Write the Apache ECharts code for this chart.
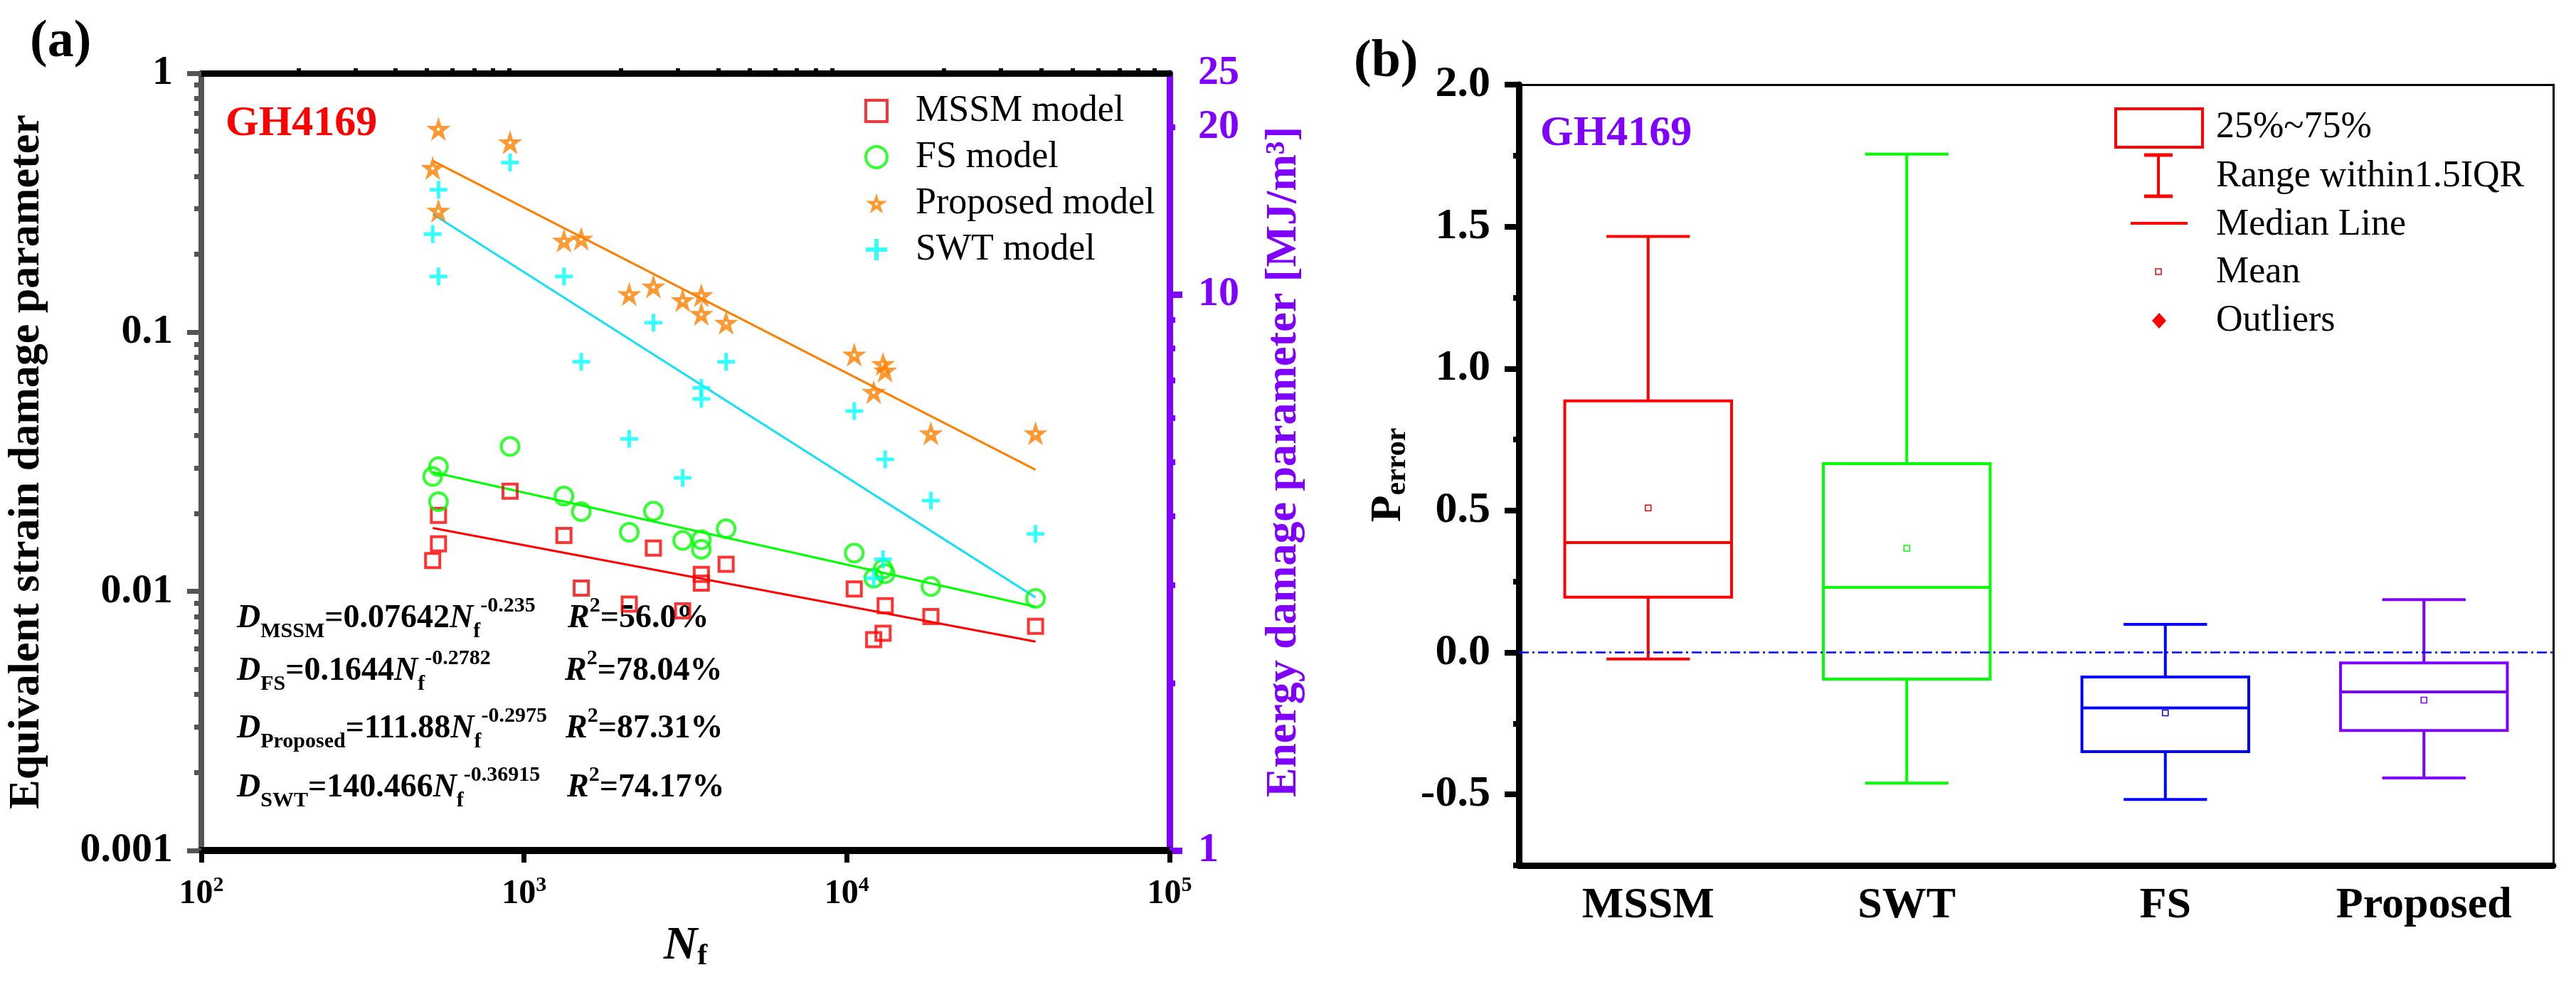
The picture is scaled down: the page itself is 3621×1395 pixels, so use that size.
<!DOCTYPE html>
<html>
<head>
<meta charset="utf-8">
<title>GH4169 damage parameters and P_error</title>
<script src="https://cdn.jsdelivr.net/npm/echarts@6/dist/echarts.min.js"></script>
<style>
  html, body { margin: 0; padding: 0; background: #fff; }
  #chart { width: 3621px; height: 1395px; }
</style>
</head>
<body>
<div id="chart"></div>
<script>

// (a) damage parameters vs. fatigue life
var nf = [521, 543, 543, 905, 1329, 1504, 2118, 2516, 3100, 3542, 3542, 4227, 10544, 12114, 12950, 13150, 18218, 38440];
var dMSSM = [0.01315, 0.01964, 0.01527, 0.02438, 0.01643, 0.0103, 0.00894, 0.0147, 0.00842, 0.01163, 0.01076, 0.01272, 0.01022, 0.00651, 0.00689, 0.00881, 0.0080, 0.00733];
var dFS = [0.02776, 0.0303, 0.02221, 0.03626, 0.02333, 0.02031, 0.01692, 0.0204, 0.01572, 0.01582, 0.01454, 0.01745, 0.01406, 0.01125, 0.0122, 0.0117, 0.01045, 0.0094];
var eProposed = [16.89, 19.86, 14.15, 18.79, 12.50, 12.60, 10.02, 10.34, 9.77, 9.97, 9.23, 8.90, 7.80, 6.68, 7.50, 7.30, 5.63, 5.63];
var eSWT = [12.84, 15.43, 10.78, 17.28, 10.78, 7.57, 5.50, 8.90, 4.68, 6.79, 6.49, 7.57, 6.17, 3.09, 3.34, 5.05, 4.26, 3.71];

// fitted power laws, values at first and last Nf
var fitNf = [521, 38440];
var fitMSSM = [0.01757, 0.0064];
var fitFS = [0.02885, 0.00872];
var fitProposed = [17.40, 4.84];
var fitSWT = [13.95, 2.852];

// (b) P_error box plot
var boxCats = ['MSSM', 'SWT', 'FS', 'Proposed'];
var boxMin = [-0.023, -0.46, -0.518, -0.442];
var boxQ1 = [0.195, -0.094, -0.349, -0.275];
var boxMedian = [0.387, 0.229, -0.195, -0.139];
var boxQ3 = [0.886, 0.665, -0.086, -0.037];
var boxMax = [1.465, 1.755, 0.099, 0.186];
var boxMean = [0.509, 0.367, -0.213, -0.168];

// tick labels
var energyLabels = [1, 10, 20, 25];
var energyMajor = [1, 10];
var energyMinor = [2, 3, 4, 5, 6, 7, 8, 9, 20];
var pMajor = [-0.5, 0, 0.5, 1, 1.5, 2];
var pMinor = [-0.75, -0.25, 0.25, 0.75, 1.25, 1.75];

var serif = 'Liberation Serif, Tinos, Times New Roman, serif';
var purple = '#8000FF';
var boxColors = ['#FF0000', '#00FF00', '#0000FF', purple];

// star with a small hole (inner pentagon drawn the other way round)
var starPath = 'path://M50,0 L61.2,34.5 L97.6,34.5 L68.2,55.9 L79.4,90.5 L50,69.1 L20.6,90.5 L31.8,55.9 L2.4,34.5 L38.8,34.5 Z' +
    ' M50,40 L43,45 L45.5,53 L54.5,53 L57,45 Z';
var plusPath = 'path://M4,0H6V4H10V6H6V10H4V6H0V4H4Z';

// minor tick values on the log axes (2..9 per decade)
var minorX = [], minorY = [];
[100, 1000, 10000].forEach(function (d) {
    for (var k = 2; k < 10; k++) minorX.push(k * d);
});
[0.001, 0.01, 0.1].forEach(function (d) {
    for (var k = 2; k < 10; k++) minorY.push(Number((k * d).toPrecision(3)));
});

function pairs(xs, ys) {
    return xs.map(function (x, i) { return [x, ys[i]]; });
}

var boxData = boxCats.map(function (c, i) {
    return [c, boxMin[i], boxQ1[i], boxMedian[i], boxQ3[i], boxMax[i], boxMean[i]];
});

function renderBox(params, api) {
    var c = boxColors[params.dataIndex];
    var idx = api.value(0);
    var bw = api.size([1, 0])[0] * 0.645;
    var cap = bw / 2;
    var lo = api.coord([idx, api.value(1)]);
    var q1 = api.coord([idx, api.value(2)]);
    var md = api.coord([idx, api.value(3)]);
    var q3 = api.coord([idx, api.value(4)]);
    var hi = api.coord([idx, api.value(5)]);
    var mn = api.coord([idx, api.value(6)]);
    var x = md[0];
    var st = { stroke: c, lineWidth: 4, fill: null };
    return {
        type: 'group',
        children: [
            { type: 'line', shape: { x1: x, y1: q3[1], x2: x, y2: hi[1] }, style: st },
            { type: 'line', shape: { x1: x, y1: q1[1], x2: x, y2: lo[1] }, style: st },
            { type: 'line', shape: { x1: x - cap / 2, y1: hi[1], x2: x + cap / 2, y2: hi[1] }, style: st },
            { type: 'line', shape: { x1: x - cap / 2, y1: lo[1], x2: x + cap / 2, y2: lo[1] }, style: st },
            { type: 'rect', shape: { x: x - bw / 2, y: q3[1], width: bw, height: q1[1] - q3[1] }, style: { stroke: c, lineWidth: 4, fill: 'rgba(0,0,0,0)' } },
            { type: 'line', shape: { x1: x - bw / 2, y1: md[1], x2: x + bw / 2, y2: md[1] }, style: st },
            { type: 'rect', shape: { x: mn[0] - 4, y: mn[1] - 4, width: 8, height: 8 }, style: { stroke: c, lineWidth: 1.5, fill: 'rgba(0,0,0,0)' } }
        ]
    };
}

var eqRich = {
    d: { fontFamily: serif, fontSize: 46, fontWeight: 'bold', fontStyle: 'italic', lineHeight: 66, color: '#000' },
    n: { fontFamily: serif, fontSize: 46, fontWeight: 'bold', lineHeight: 66, color: '#000' },
    sub: { fontFamily: serif, fontSize: 30, fontWeight: 'bold', verticalAlign: 'bottom', lineHeight: 34, color: '#000' },
    sup: { fontFamily: serif, fontSize: 30, fontWeight: 'bold', verticalAlign: 'top', lineHeight: 30, color: '#000' }
};

function eqText(x, y, txt) {
    return { type: 'text', left: x, top: y, style: { text: txt, rich: eqRich, verticalAlign: 'top' } };
}

function legText(x, y, txt) {
    return { type: 'text', x: x, y: y, style: { text: txt, fontFamily: serif, fontSize: 52, fill: '#000', verticalAlign: 'middle' } };
}

var myChart = echarts.init(document.getElementById('chart'));

var option = {
    animation: false,
    backgroundColor: '#fff',
    grid: [
        { left: 283, top: 103, width: 1361, height: 1093 },
        { left: 2135, top: 119, width: 1454, height: 1098 }
    ],
    legend: {
        orient: 'vertical',
        left: 1210,
        top: 125,
        itemWidth: 30,
        itemHeight: 30,
        itemGap: 13,
        selectedMode: false,
        textStyle: { fontFamily: serif, fontSize: 52, color: '#000', lineHeight: 52, padding: [0, 0, 0, 35] },
        data: [
            { name: 'MSSM model', icon: 'rect', itemStyle: { color: 'rgba(0,0,0,0)', borderColor: '#FF0000', borderWidth: 4 } },
            { name: 'FS model', icon: 'circle', itemStyle: { color: 'rgba(0,0,0,0)', borderColor: '#00FF00', borderWidth: 4 } },
            { name: 'Proposed model', icon: starPath, itemStyle: { color: '#FF8000', borderWidth: 0 } },
            { name: 'SWT model', icon: plusPath, itemStyle: { color: '#00FFFF', borderWidth: 0 } }
        ]
    },
    xAxis: [
        {
            gridIndex: 0, type: 'log', logBase: 10, min: 100, max: 100000,
            splitLine: { show: false },
            axisLine: { onZero: false, lineStyle: { color: '#000', width: 10 } },
            axisTick: { length: 17, lineStyle: { color: '#000', width: 7 } },
            axisLabel: {
                margin: 34,
                formatter: function (v) { return '{b|10}{s|' + Math.round(Math.log10(v)) + '}'; },
                rich: {
                    b: { fontFamily: serif, fontSize: 48, fontWeight: 'bold', color: '#000', lineHeight: 56 },
                    s: { fontFamily: serif, fontSize: 30, fontWeight: 'bold', color: '#000', verticalAlign: 'top', lineHeight: 30 }
                }
            },
            name: '{n|N}{f|f}',
            nameLocation: 'middle',
            nameGap: 100,
            nameTextStyle: {
                rich: {
                    n: { fontFamily: serif, fontSize: 66, fontWeight: 'bold', fontStyle: 'italic', color: '#000', lineHeight: 70 },
                    f: { fontFamily: serif, fontSize: 42, fontWeight: 'bold', color: '#000', verticalAlign: 'bottom', lineHeight: 44 }
                }
            }
        },
        {
            gridIndex: 0, type: 'log', logBase: 10, min: 100, max: 100000,
            splitLine: { show: false },
            axisLine: { show: false, onZero: false },
            axisTick: { customValues: minorX, length: 7, lineStyle: { color: '#000', width: 6 } },
            axisLabel: { show: false }
        },
        {
            gridIndex: 0, type: 'value', position: 'top', min: 0, max: 1,
            splitLine: { show: false },
            axisLine: { onZero: false, lineStyle: { color: '#000', width: 9 } },
            axisTick: { show: false }, axisLabel: { show: false }
        },
        {
            gridIndex: 1, type: 'category', data: boxCats,
            splitLine: { show: false },
            axisLine: { onZero: false, lineStyle: { color: '#000', width: 9 } },
            axisTick: { alignWithLabel: true, length: 18, lineStyle: { color: '#000', width: 8 } },
            axisLabel: { margin: 26, fontFamily: serif, fontSize: 62, fontWeight: 'bold', color: '#000' }
        },
        {
            gridIndex: 1, type: 'value', position: 'top', min: 0, max: 1,
            splitLine: { show: false },
            axisLine: { onZero: false, lineStyle: { color: '#000', width: 3 } },
            axisTick: { show: false }, axisLabel: { show: false }
        }
    ],
    yAxis: [
        {
            gridIndex: 0, type: 'log', logBase: 10, min: 0.001, max: 1, position: 'left',
            splitLine: { show: false },
            axisLine: { onZero: false, lineStyle: { color: '#555', width: 8 } },
            axisTick: { length: 20, lineStyle: { color: '#555', width: 7 } },
            axisLabel: {
                margin: 40, fontFamily: serif, fontSize: 58, fontWeight: 'bold', color: '#000',
                formatter: function (v) { return String(Number(v.toPrecision(3))); }
            },
            name: 'Equivalent strain damage parameter',
            nameLocation: 'middle', nameRotate: 90, nameGap: 214,
            nameTextStyle: { fontFamily: serif, fontSize: 62, fontWeight: 'bold', color: '#000' }
        },
        {
            gridIndex: 0, type: 'log', logBase: 10, min: 1, max: 25, position: 'right',
            splitLine: { show: false },
            axisLine: { onZero: false, lineStyle: { color: purple, width: 9 } },
            axisTick: { customValues: energyMajor, length: 18, lineStyle: { color: purple, width: 9 } },
            axisLabel: {
                customValues: energyLabels, margin: 40,
                fontFamily: serif, fontSize: 58, fontWeight: 'bold', color: purple
            },
            name: 'Energy damage parameter [MJ/m\u00B3]',
            nameLocation: 'middle', nameRotate: 90, nameGap: 130,
            nameTextStyle: { fontFamily: serif, fontSize: 62, fontWeight: 'bold', color: purple }
        },
        {
            gridIndex: 0, type: 'log', logBase: 10, min: 0.001, max: 1, position: 'left',
            splitLine: { show: false },
            axisLine: { show: false, onZero: false },
            axisTick: { customValues: minorY, length: 10, lineStyle: { color: '#555', width: 7 } },
            axisLabel: { show: false }
        },
        {
            gridIndex: 0, type: 'log', logBase: 10, min: 1, max: 25, position: 'right',
            splitLine: { show: false },
            axisLine: { show: false, onZero: false },
            axisTick: { customValues: energyMinor, length: 8, lineStyle: { color: purple, width: 8 } },
            axisLabel: { show: false }
        },
        {
            gridIndex: 1, type: 'value', min: -0.75, max: 2, position: 'left',
            splitLine: { show: false },
            axisLine: { onZero: false, lineStyle: { color: '#000', width: 9 } },
            axisTick: { customValues: pMajor, length: 20, lineStyle: { color: '#000', width: 8 } },
            axisLabel: {
                customValues: pMajor, margin: 40,
                fontFamily: serif, fontSize: 62, fontWeight: 'bold', color: '#000',
                formatter: function (v) { return v.toFixed(1); }
            },
            name: '{p|P}{s|error}',
            nameLocation: 'middle', nameRotate: 90, nameGap: 150,
            nameTextStyle: {
                rich: {
                    p: { fontFamily: serif, fontSize: 62, fontWeight: 'bold', color: '#000', lineHeight: 66 },
                    s: { fontFamily: serif, fontSize: 42, fontWeight: 'bold', color: '#000', verticalAlign: 'bottom', lineHeight: 44 }
                }
            }
        },
        {
            gridIndex: 1, type: 'value', min: -0.75, max: 2, position: 'left',
            splitLine: { show: false },
            axisLine: { show: false, onZero: false },
            axisTick: { customValues: pMinor, length: 8, lineStyle: { color: '#000', width: 8 } },
            axisLabel: { show: false }
        },
        {
            gridIndex: 1, type: 'value', min: -0.75, max: 2, position: 'right',
            splitLine: { show: false },
            axisLine: { onZero: false, lineStyle: { color: '#000', width: 3 } },
            axisTick: { show: false }, axisLabel: { show: false }
        }
    ],
    series: [
        // fitted lines
        { type: 'line', xAxisIndex: 0, yAxisIndex: 0, data: pairs(fitNf, fitMSSM), symbol: 'none', lineStyle: { color: '#FF0000', width: 3 }, z: 2 },
        { type: 'line', xAxisIndex: 0, yAxisIndex: 0, data: pairs(fitNf, fitFS), symbol: 'none', lineStyle: { color: '#00FF00', width: 3 }, z: 2 },
        { type: 'line', xAxisIndex: 0, yAxisIndex: 1, data: pairs(fitNf, fitProposed), symbol: 'none', lineStyle: { color: '#FF8000', width: 3 }, z: 2 },
        { type: 'line', xAxisIndex: 0, yAxisIndex: 1, data: pairs(fitNf, fitSWT), symbol: 'none', lineStyle: { color: '#19E0F5', width: 3 }, z: 2 },
        // points
        {
            name: 'MSSM model', type: 'scatter', xAxisIndex: 0, yAxisIndex: 0,
            data: pairs(nf, dMSSM), symbol: 'rect', symbolSize: 20,
            itemStyle: { color: 'rgba(0,0,0,0)', borderColor: '#FF0000', borderWidth: 4 }, z: 3
        },
        {
            name: 'FS model', type: 'scatter', xAxisIndex: 0, yAxisIndex: 0,
            data: pairs(nf, dFS), symbol: 'circle', symbolSize: 25,
            itemStyle: { color: 'rgba(0,0,0,0)', borderColor: '#00FF00', borderWidth: 4 }, z: 3
        },
        {
            name: 'Proposed model', type: 'scatter', xAxisIndex: 0, yAxisIndex: 1,
            data: pairs(nf, eProposed), symbol: starPath, symbolSize: 34,
            itemStyle: { color: '#FF8000' }, z: 3
        },
        {
            name: 'SWT model', type: 'scatter', xAxisIndex: 0, yAxisIndex: 1,
            data: pairs(nf, eSWT), symbol: plusPath, symbolSize: 25,
            itemStyle: { color: '#00FFFF' }, z: 3
        },
        // box plot
        {
            type: 'custom', xAxisIndex: 3, yAxisIndex: 4,
            data: boxData,
            encode: { x: 0, y: [1, 2, 3, 4, 5, 6] },
            renderItem: renderBox,
            markLine: {
                silent: true, symbol: 'none', label: { show: false },
                lineStyle: { color: '#0000FF', width: 2.5, type: [14, 5, 3, 5] },
                data: [{ yAxis: 0 }]
            },
            z: 3
        }
    ],
    graphic: [
        { type: 'text', x: 42, y: 60, style: { text: '(a)', fontFamily: serif, fontSize: 74, fontWeight: 'bold', fill: '#000', verticalAlign: 'middle' } },
        { type: 'text', x: 1903, y: 88, style: { text: '(b)', fontFamily: serif, fontSize: 74, fontWeight: 'bold', fill: '#000', verticalAlign: 'middle' } },
        { type: 'text', x: 317, y: 174, style: { text: 'GH4169', fontFamily: serif, fontSize: 60, fontWeight: 'bold', fill: '#FF0000', verticalAlign: 'middle' } },
        { type: 'text', x: 2165, y: 188, style: { text: 'GH4169', fontFamily: serif, fontSize: 60, fontWeight: 'bold', fill: purple, verticalAlign: 'middle' } },

        eqText(333, 837, '{d|D}{sub|MSSM}{n|=0.07642}{d|N}{sub|f}{sup|-0.235}'),
        eqText(333, 911, '{d|D}{sub|FS}{n|=0.1644}{d|N}{sub|f}{sup|-0.2782}'),
        eqText(333, 992, '{d|D}{sub|Proposed}{n|=111.88}{d|N}{sub|f}{sup|-0.2975}'),
        eqText(333, 1075, '{d|D}{sub|SWT}{n|=140.466}{d|N}{sub|f}{sup|-0.36915}'),
        eqText(798, 837, '{d|R}{sup|2}{n|=56.0%}'),
        eqText(794, 911, '{d|R}{sup|2}{n|=78.04%}'),
        eqText(795, 992, '{d|R}{sup|2}{n|=87.31%}'),
        eqText(797, 1075, '{d|R}{sup|2}{n|=74.17%}'),

        // legend of the box plot
        { type: 'rect', shape: { x: 2974, y: 153, width: 122, height: 54 }, style: { stroke: '#FF0000', lineWidth: 4, fill: 'rgba(0,0,0,0)' } },
        { type: 'line', shape: { x1: 3034, y1: 218, x2: 3034, y2: 276 }, style: { stroke: '#FF0000', lineWidth: 4 } },
        { type: 'line', shape: { x1: 3014, y1: 218, x2: 3054, y2: 218 }, style: { stroke: '#FF0000', lineWidth: 5 } },
        { type: 'line', shape: { x1: 3014, y1: 276, x2: 3054, y2: 276 }, style: { stroke: '#FF0000', lineWidth: 5 } },
        { type: 'line', shape: { x1: 2995, y1: 314, x2: 3075, y2: 314 }, style: { stroke: '#FF0000', lineWidth: 4 } },
        { type: 'rect', shape: { x: 3030, y: 378, width: 8, height: 8 }, style: { stroke: '#FF0000', lineWidth: 1.5, fill: 'rgba(0,0,0,0)' } },
        { type: 'polygon', shape: { points: [[3035, 440], [3045, 451], [3035, 462], [3025, 451]] }, style: { fill: '#FF0000' } },
        legText(3115, 179, '25%~75%'),
        legText(3115, 248, 'Range within1.5IQR'),
        legText(3115, 316, 'Median Line'),
        legText(3115, 383, 'Mean'),
        legText(3115, 451, 'Outliers')
    ]
};

myChart.setOption(option);

window.addEventListener('resize', function () {
    myChart.resize();
});
</script>
</body>
</html>
